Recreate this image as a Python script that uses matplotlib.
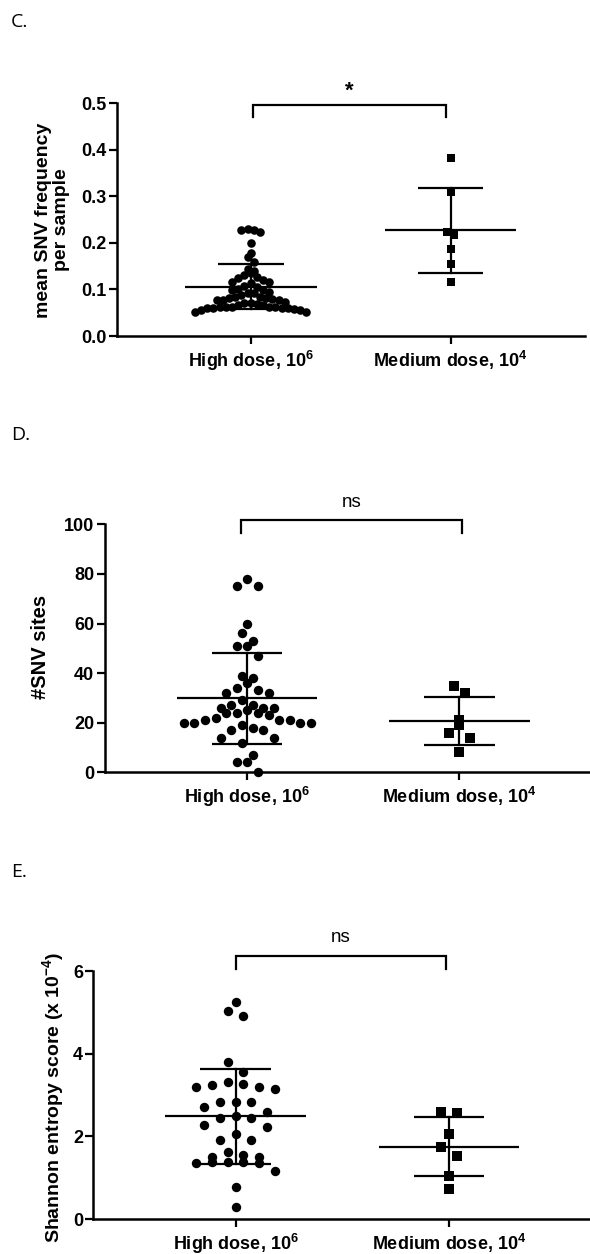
import numpy as np
import matplotlib
matplotlib.use("Agg")
import matplotlib.pyplot as plt

plt.rcParams['font.family'] = ['Liberation Sans', 'DejaVu Sans']
plt.rcParams['font.weight'] = 'bold'
plt.rcParams['mathtext.fontset'] = 'custom'
plt.rcParams['mathtext.rm'] = 'Liberation Sans:bold'
plt.rcParams['mathtext.bf'] = 'Liberation Sans:bold'
plt.rcParams['mathtext.it'] = 'Liberation Sans:bold'
plt.rcParams['mathtext.default'] = 'bf'

# ---------------- data ----------------
categories = ["High dose, $10^{6}$", "Medium dose, $10^{4}$"]

# Panel C: mean SNV frequency per sample
c_high = [0.229, 0.228, 0.227, 0.223, 0.200, 0.179, 0.170, 0.160,
          0.145, 0.140, 0.135, 0.131, 0.127, 0.124, 0.120, 0.117, 0.117, 0.113,
          0.108, 0.106, 0.102, 0.099, 0.099, 0.095, 0.092, 0.092, 0.088, 0.084,
          0.083, 0.081, 0.081, 0.079, 0.078, 0.078, 0.078, 0.074, 0.070, 0.070,
          0.069, 0.067, 0.067, 0.063, 0.063, 0.062, 0.062, 0.062, 0.060, 0.060,
          0.060, 0.060, 0.057, 0.056, 0.056, 0.052, 0.052]
c_medium = [0.382, 0.310, 0.224, 0.217, 0.188, 0.154, 0.117]
c_mean = [0.106, 0.227]
c_sd = [0.049, 0.092]
c_ticks = [0.0, 0.1, 0.2, 0.3, 0.4, 0.5]
c_ticklabels = ["0.0", "0.1", "0.2", "0.3", "0.4", "0.5"]

# Panel D: number of SNV sites
d_high = [75, 78, 75, 60, 56, 53, 51, 51, 47, 39, 38, 36, 33, 34, 32, 32,
          29, 26, 26, 25, 26, 27, 27, 24, 24, 24, 23, 21, 21, 21, 20, 20, 19,
          20, 22, 20, 18, 17, 17, 14, 14, 12, 7, 4, 4, 0]
d_medium = [35, 32, 21, 19, 16, 14, 8]
d_mean = [29.8, 20.8]
d_sd = [18.2, 9.6]
d_ticks = [0, 20, 40, 60, 80, 100]

# Panel E: Shannon entropy (x 1e-4)
e_high = [4.92, 5.03, 5.24, 3.79, 3.55, 3.19, 3.26, 3.15, 3.20, 3.23, 3.31,
          2.84, 2.82, 2.82, 2.70, 2.58, 2.45, 2.48, 2.45, 2.22, 2.27, 2.06,
          1.90, 1.90, 1.61, 1.51, 1.49, 1.55, 1.35, 1.35, 1.39, 1.39, 1.37,
          1.15, 0.78, 0.30]
e_medium = [2.60, 2.56, 2.05, 1.73, 1.52, 1.05, 0.73]
e_mean = [2.48, 1.75]
e_sd = [1.16, 0.72]
e_ticks = [0, 2, 4, 6]

W, H = 590, 1254
fig = plt.figure(figsize=(W / 100, H / 100), dpi=100)


def px_axes(left, right, top, bottom):
    return fig.add_axes([left / W, 1 - bottom / H, (right - left) / W, (bottom - top) / H])


def row_offsets(ax, values, bin_px, sp_px):
    """Prism-like scatter: group close values into rows, spread each row."""
    t = ax.transData
    p0 = t.transform((0, 0))
    p1 = t.transform((1, 1))
    sx, sy = p1[0] - p0[0], p1[1] - p0[1]
    vals = np.asarray(values, float)
    order = list(np.argsort(vals))
    offs = np.zeros(len(vals))
    bins = []
    cur = []
    start = None
    for i in order:
        y = vals[i] * sy
        if start is None or y - start > bin_px:
            if cur:
                bins.append(cur)
            cur = [i]
            start = y
        else:
            cur.append(i)
    if cur:
        bins.append(cur)
    for b in bins:
        n = len(b)
        slots = [(k - (n - 1) / 2) * sp_px for k in range(n)]
        slots.sort(key=lambda s: (abs(s), s))
        members = sorted(b, key=lambda i: -vals[i])
        for i, s in zip(members, slots):
            offs[i] = s / sx
    return offs


def style_axes(ax, xlim, ylim, ticks, ticklabels=None):
    ax.set_xlim(*xlim)
    ax.set_ylim(*ylim)
    for s in ['top', 'right']:
        ax.spines[s].set_visible(False)
    for s in ['left', 'bottom']:
        ax.spines[s].set_linewidth(1.8)
    ax.set_yticks(ticks)
    if ticklabels is not None:
        ax.set_yticklabels(ticklabels)
    ax.set_xticks([0, 1])
    ax.set_xticklabels(categories)
    ax.tick_params(axis='both', direction='out', length=6, width=1.6,
                   labelsize=13, colors='black')
    ax.tick_params(axis='y', pad=1.5)
    ax.tick_params(axis='x', pad=3)
    ax.patch.set_alpha(0)


def draw_group(ax, vals_list, means, sds, sizes, bin_px, sp_px):
    markers = ['o', 's']
    for j, vals in enumerate(vals_list):
        off = row_offsets(ax, vals, bin_px, sp_px)
        ax.scatter(j + off, vals, s=sizes[j], marker=markers[j], color='black',
                   linewidths=0, clip_on=False, zorder=3)
        m, sd = means[j], sds[j]
        ax.plot([j - 0.33, j + 0.33], [m, m], color='black', lw=1.6, zorder=4,
                solid_capstyle='butt')
        ax.plot([j - 0.165, j + 0.165], [m + sd, m + sd], color='black', lw=1.6,
                zorder=4, solid_capstyle='butt')
        ax.plot([j - 0.165, j + 0.165], [m - sd, m - sd], color='black', lw=1.6,
                zorder=4, solid_capstyle='butt')
        ax.plot([j, j], [m - sd, m + sd], color='black', lw=1.6, zorder=4)


def bracket(ax, x0, x1, ybot, ytop, text, ytext, bold, size):
    ax.plot([x0, x0, x1, x1], [ybot, ytop, ytop, ybot], color='black', lw=1.6,
            clip_on=False, solid_joinstyle='miter')
    ax.text((x0 + x1) / 2, ytext, text, ha='center', va='center',
            fontsize=size, fontweight='bold' if bold else 'normal')


# ---------------- Panel C ----------------
axC = px_axes(117.4, 585, 103.3, 336)
style_axes(axC, (-0.667, 1.673), (0, 0.5), c_ticks, c_ticklabels)
draw_group(axC, [c_high, c_medium], c_mean, c_sd, [38, 40], 8.5, 6.2)
bracket(axC, 0.01, 0.975, 0.471, 0.497, "*", 0.525, True, 16)
fig.text(52.5 / W, 1 - 220 / H, "mean SNV frequency\nper sample", rotation=90,
         ha='center', va='center', fontsize=14, fontweight='bold',
         linespacing=1.15, multialignment='center')
fig.text(11 / W, 1 - 22 / H, "C.", family=['Open Sans', 'DejaVu Sans'], fontsize=14,
         fontweight='normal', ha='left', va='center')

# ---------------- Panel D ----------------
axD = px_axes(104.6, 590, 524.3, 772.3)
style_axes(axD, (-0.6725, 1.615), (0, 100), d_ticks)
draw_group(axD, [d_high, d_medium], d_mean, d_sd, [46, 42], 12.5, 10.6)
bracket(axD, -0.03, 1.01, 96.5, 101.7, "ns", 108.8, False, 13.5)
fig.text(41 / W, 1 - 647 / H, "#SNV sites", rotation=90, ha='center', va='center',
         fontsize=14.5, fontweight='bold')
fig.text(11 / W, 1 - 435 / H, "D.", family=['Open Sans', 'DejaVu Sans'], fontsize=14,
         fontweight='normal', ha='left', va='center')

# ---------------- Panel E ----------------
axE = px_axes(93.3, 590, 971, 1219)
style_axes(axE, (-0.667, 1.661), (0, 6), e_ticks)
draw_group(axE, [e_high, e_medium], e_mean, e_sd, [46, 42], 11.0, 15.7)
bracket(axE, 0.0, 0.988, 6.05, 6.36, "ns", 6.80, False, 13.5)
fig.text(52.7 / W, 1 - 1097 / H, "Shannon entropy score (x $10^{-4}$)", rotation=90,
         ha='center', va='center', fontsize=14, fontweight='bold')
fig.text(11 / W, 1 - 872 / H, "E.", family=['Open Sans', 'DejaVu Sans'], fontsize=14,
         fontweight='normal', ha='left', va='center')

fig.savefig("out.png", dpi=100, facecolor='white')
